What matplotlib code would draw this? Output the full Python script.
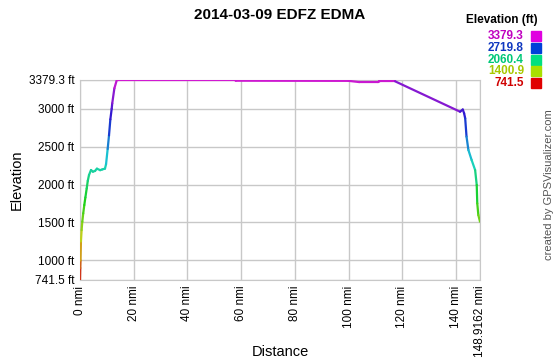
import colorsys
import matplotlib
matplotlib.use('Agg')
import matplotlib.pyplot as plt
import numpy as np
from matplotlib.collections import LineCollection
from matplotlib.patches import Rectangle

plt.rcParams['font.family'] = ['Liberation Sans', 'DejaVu Sans']

# profile (nmi, ft)
distance = [0.0, 0.1, 0.2, 0.35, 0.6, 0.85, 1.2, 1.6, 2.0, 2.5, 2.9, 3.35, 4.1, 4.8,
            5.6, 6.3, 7.5, 8.3, 9.3, 9.7, 10.3, 10.8, 11.3, 11.8, 12.0, 12.8, 13.7,
            14.3, 57.7, 58.0, 100.0, 104.0, 111.0, 111.5, 117.3, 141.5, 142.5, 143.0,
            143.4, 143.9, 144.6, 145.8, 147.1, 147.7, 147.9, 148.3, 148.9162]
elevation = [741.5, 900, 1000, 1250, 1400, 1510, 1620, 1730, 1830, 1950, 2050, 2126,
             2192, 2170, 2180, 2210, 2190, 2200, 2210, 2270, 2470, 2650, 2860, 3000,
             3071, 3270, 3379.3, 3379.3, 3379.3, 3370, 3368, 3352, 3352, 3362, 3362,
             2961, 2990, 2940, 2874, 2632, 2456, 2324, 2192, 1994, 1752, 1598, 1510]

x_ticks = [0, 20, 40, 60, 80, 100, 120, 140, 148.9162]
x_labels = ['0 nmi', '20 nmi', '40 nmi', '60 nmi', '80 nmi', '100 nmi', '120 nmi',
            '140 nmi', '148.9162 nmi']
y_ticks = [741.5, 1000, 1500, 2000, 2500, 3000, 3379.3]
y_labels = ['741.5 ft', '1000 ft', '1500 ft', '2000 ft', '2500 ft', '3000 ft', '3379.3 ft']

legend_values = ['3379.3', '2719.8', '2060.4', '1400.9', '741.5']
legend_box_colors = ['#e000e0', '#0040d8', '#00e080', '#a8e000', '#e00000']
legend_text_colors = ['#c000c0', '#1038c0', '#00c878', '#a8c800', '#d00000']

e_min, e_max = min(elevation), max(elevation)


def elev_color(e):
    frac = (e - e_min) / (e_max - e_min)
    return colorsys.hsv_to_rgb(frac * 300 / 360, 0.88, 0.82)


fig = plt.figure(figsize=(5.6, 3.6), dpi=100)
ax = fig.add_axes([80 / 560, 1 - 280 / 360, 400 / 560, 200 / 360])

pts = np.column_stack([distance, elevation])
segs = np.stack([pts[:-1], pts[1:]], axis=1)
seg_colors = [elev_color((a + b) / 2) for a, b in zip(elevation[:-1], elevation[1:])]
ax.add_collection(LineCollection(segs, colors=seg_colors, linewidths=1.6,
                                 capstyle='round', zorder=3))

ax.set_xlim(0, 148.9162)
ax.set_ylim(741.5, 3379.3)
ax.set_xticks(x_ticks)
ax.set_xticklabels(x_labels, rotation=90, fontsize=8.5)
ax.set_yticks(y_ticks)
ax.set_yticklabels(y_labels, fontsize=8.5)
ax.tick_params(length=0, pad=4)
ax.grid(True, color='#c8c8c8', linewidth=1)
for s in ax.spines.values():
    s.set_color('#c8c8c8')

ax.set_xlabel('Distance', fontsize=10.5, va='center')
ax.xaxis.set_label_coords(0.5, (280 - 352) / 200)
ax.set_ylabel('Elevation', fontsize=10.5, va='center')
ax.yaxis.set_label_coords((17 - 80) / 400, 0.5)

fig.text(0.5, 1 - 15 / 360, '2014-03-09 EDFZ EDMA', ha='center', va='center',
         fontsize=11, fontweight='bold')

fig.text(538 / 560, 1 - 20 / 360, 'Elevation (ft)', ha='right', va='center',
         fontsize=8.5, fontweight='bold')
for i, (val, bc, tc) in enumerate(zip(legend_values, legend_box_colors, legend_text_colors)):
    yc = 36 + i * 11.8
    fig.text(524 / 560, 1 - yc / 360, val, ha='right', va='center', fontsize=8.5,
             fontweight='bold', color=tc)
    fig.patches.append(Rectangle((531 / 560, 1 - (yc + 5) / 360), 10 / 560, 10 / 360,
                                 transform=fig.transFigure, color=bc))

fig.text(549 / 560, 1 - 185 / 360, 'created by GPSVisualizer.com', rotation=90,
         ha='center', va='center', fontsize=8, color='#555555')

fig.savefig('out.png', dpi=100)
